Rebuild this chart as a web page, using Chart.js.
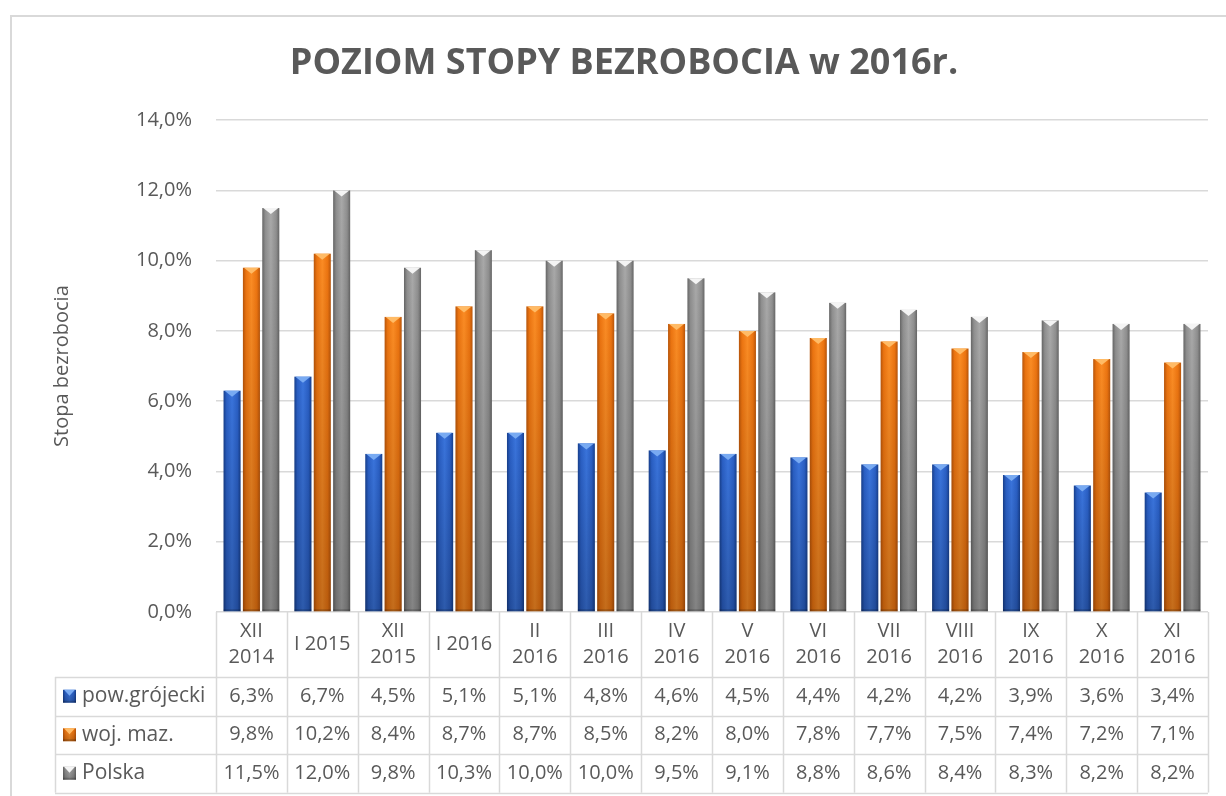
<!DOCTYPE html>
<html>
<head>
<meta charset="utf-8">
<script src="https://cdn.jsdelivr.net/npm/chart.js@4.4.1/dist/chart.umd.min.js"></script>
<style>
  html, body { margin: 0; padding: 0; background: #fff; }
  #wrap { width: 1226px; height: 796px; }
</style>
</head>
<body>
<div id="wrap"><canvas id="bezrobocieChart" width="1226" height="796"></canvas></div>
<script>
// ***** Dane ***** //
const categories = [['XII', '2014'], ['I 2015'], ['XII', '2015'], ['I 2016'], ['II', '2016'], ['III', '2016'], ['IV', '2016'],
    ['V', '2016'], ['VI', '2016'], ['VII', '2016'], ['VIII', '2016'], ['IX', '2016'], ['X', '2016'], ['XI', '2016']];
const seriesNames = ['pow.grójecki', 'woj. maz.', 'Polska'];
const powGrojecki = [6.3, 6.7, 4.5, 5.1, 5.1, 4.8, 4.6, 4.5, 4.4, 4.2, 4.2, 3.9, 3.6, 3.4];
const wojMaz = [9.8, 10.2, 8.4, 8.7, 8.7, 8.5, 8.2, 8.0, 7.8, 7.7, 7.5, 7.4, 7.2, 7.1];
const polska = [11.5, 12.0, 9.8, 10.3, 10.0, 10.0, 9.5, 9.1, 8.8, 8.6, 8.4, 8.3, 8.2, 8.2];
const yTicks = [0, 2, 4, 6, 8, 10, 12, 14];

// kolory: ciemny brzeg, srodek, jasny srodek, gorna scianka
const palette = [
    { dark: '#173f8c', mid: '#2a5fc4', light: '#3a74dc', top: '#78aaf2' },
    { dark: '#b8550a', mid: '#ec7410', light: '#fb8c24', top: '#ffbb66' },
    { dark: '#666666', mid: '#8f8f8f', light: '#a9a9a9', top: '#f4f4f4' }
];

const textColor = '#595959';
const lineColor = '#d9d9d9';
const fmt = v => v.toFixed(1).replace('.', ',') + '%';

// ***** rysowanie slupka z fazowaniem ***** //
function drawBevelBar(ctx, L, R, T, B, c) {
    const w = R - L;
    if (B - T < 1) return;
    let g = ctx.createLinearGradient(L, 0, R, 0);
    g.addColorStop(0, c.dark);
    g.addColorStop(0.18, c.mid);
    g.addColorStop(0.5, c.light);
    g.addColorStop(0.82, c.mid);
    g.addColorStop(1, c.dark);
    ctx.fillStyle = g;
    ctx.fillRect(L, T, w, B - T);
    // przyciemnienie ku dolowi
    let v = ctx.createLinearGradient(0, T, 0, B);
    v.addColorStop(0, 'rgba(0,0,0,0)');
    v.addColorStop(1, 'rgba(0,0,0,0.22)');
    ctx.fillStyle = v;
    ctx.fillRect(L, T, w, B - T);
    // gorna scianka (trojkat)
    const th = Math.min(6, (B - T) / 2);
    ctx.beginPath();
    ctx.moveTo(L + 1, T);
    ctx.lineTo(R - 1, T);
    ctx.lineTo(L + w / 2, T + th);
    ctx.closePath();
    ctx.fillStyle = c.top;
    ctx.fill();
    // dolna krawedz
    ctx.fillStyle = 'rgba(0,0,0,0.18)';
    ctx.fillRect(L, B - 2, w, 2);
}

const bevelBars = {
    id: 'bevelBars',
    afterDatasetsDraw(chart) {
        const ctx = chart.ctx;
        ctx.save();
        chart.data.datasets.forEach((ds, di) => {
            const meta = chart.getDatasetMeta(di);
            meta.data.forEach(bar => {
                const p = bar.getProps(['x', 'y', 'base', 'width'], true);
                drawBevelBar(ctx, p.x - p.width / 2, p.x + p.width / 2, p.y, p.base, palette[di]);
            });
        });
        ctx.restore();
    }
};

// ***** ramka wykresu ***** //
const chartFrame = {
    id: 'chartFrame',
    beforeDraw(chart) {
        const ctx = chart.ctx;
        ctx.save();
        ctx.strokeStyle = lineColor;
        ctx.lineWidth = 2;
        ctx.strokeRect(11, 16, chart.width + 10, chart.height + 10);
        ctx.restore();
    }
};

// ***** tabela danych pod osia ***** //
const dataTable = {
    id: 'dataTable',
    afterDraw(chart) {
        const ctx = chart.ctx;
        const xs = chart.scales.x;
        const area = chart.chartArea;
        const n = categories.length;
        const cw = (area.right - area.left) / n;
        const headH = 65;
        const rowH = 38.5;
        const legendLeft = 55;
        const top = area.bottom;
        const rowsTop = top + headH;
        const bottom = rowsTop + rowH * seriesNames.length;
        const values = [powGrojecki, wojMaz, polska];

        ctx.save();
        ctx.strokeStyle = lineColor;
        ctx.lineWidth = 1.5;
        ctx.beginPath();
        for (let k = 0; k <= n; k++) {
            const x = Math.round(area.left + k * cw) + 0.5;
            ctx.moveTo(x, top);
            ctx.lineTo(x, bottom);
        }
        for (let r = 0; r <= seriesNames.length; r++) {
            const y = Math.round(rowsTop + r * rowH) + 0.5;
            ctx.moveTo(legendLeft, y);
            ctx.lineTo(area.right, y);
        }
        ctx.moveTo(legendLeft + 0.5, rowsTop);
        ctx.lineTo(legendLeft + 0.5, bottom);
        ctx.stroke();

        ctx.fillStyle = textColor;
        ctx.font = '20px "Open Sans"';
        ctx.textAlign = 'center';
        ctx.textBaseline = 'middle';
        categories.forEach((lab, i) => {
            const cx = xs.getPixelForValue(i);
            const mid = top + headH / 2;
            if (lab.length === 1) {
                ctx.fillText(lab[0], cx, mid);
            } else {
                ctx.fillText(lab[0], cx, mid - 13);
                ctx.fillText(lab[1], cx, mid + 13);
            }
        });
        values.forEach((arr, r) => {
            const cy = rowsTop + r * rowH + rowH / 2;
            arr.forEach((v, i) => {
                ctx.fillText(fmt(v), xs.getPixelForValue(i), cy);
            });
            // znacznik legendy
            const mx = legendLeft + 8, ms = 13;
            drawBevelBar(ctx, mx, mx + ms, cy - ms / 2, cy + ms / 2, palette[r]);
            ctx.fillStyle = textColor;
            ctx.textAlign = 'left';
            ctx.font = '21px "Open Sans"';
            ctx.fillText(seriesNames[r], mx + ms + 6, cy);
            ctx.font = '20px "Open Sans"';
            ctx.textAlign = 'center';
        });
        ctx.restore();
    }
};

const el = document.getElementById('bezrobocieChart');
if (el) {
    new Chart(el, {
        type: 'bar',
        data: {
            labels: categories.map(c => c.join(' ')),
            datasets: [
                { label: seriesNames[0], data: powGrojecki, backgroundColor: 'rgba(0,0,0,0)' },
                { label: seriesNames[1], data: wojMaz, backgroundColor: 'rgba(0,0,0,0)' },
                { label: seriesNames[2], data: polska, backgroundColor: 'rgba(0,0,0,0)' }
            ]
        },
        options: {
            responsive: false,
            animation: false,
            datasets: { bar: { categoryPercentage: 0.82, barPercentage: 0.88 } },
            layout: { padding: { left: 40, right: 18, top: 0, bottom: 184 } },
            plugins: {
                legend: { display: false },
                tooltip: { enabled: false },
                title: {
                    display: true,
                    text: 'POZIOM STOPY BEZROBOCIA w 2016r.',
                    color: textColor,
                    font: { family: '"Open Sans"', size: 36, weight: 'bold' },
                    padding: { top: 42, bottom: 35 }
                }
            },
            scales: {
                x: { display: false },
                y: {
                    min: 0,
                    max: 14,
                    afterBuildTicks(scale) { scale.ticks = yTicks.map(v => ({ value: v })); },
                    afterFit(scale) { scale.width = 176; },
                    grid: { color: lineColor, lineWidth: 1.5, drawTicks: false },
                    border: { display: false },
                    ticks: {
                        padding: 24,
                        color: textColor,
                        font: { family: '"Open Sans"', size: 20 },
                        callback: v => fmt(v)
                    },
                    title: {
                        display: true,
                        text: 'Stopa bezrobocia',
                        color: textColor,
                        font: { family: '"Open Sans"', size: 20 },
                        padding: { top: 10 }
                    }
                }
            }
        },
        plugins: [chartFrame, bevelBars, dataTable]
    });
}
</script>
</body>
</html>
